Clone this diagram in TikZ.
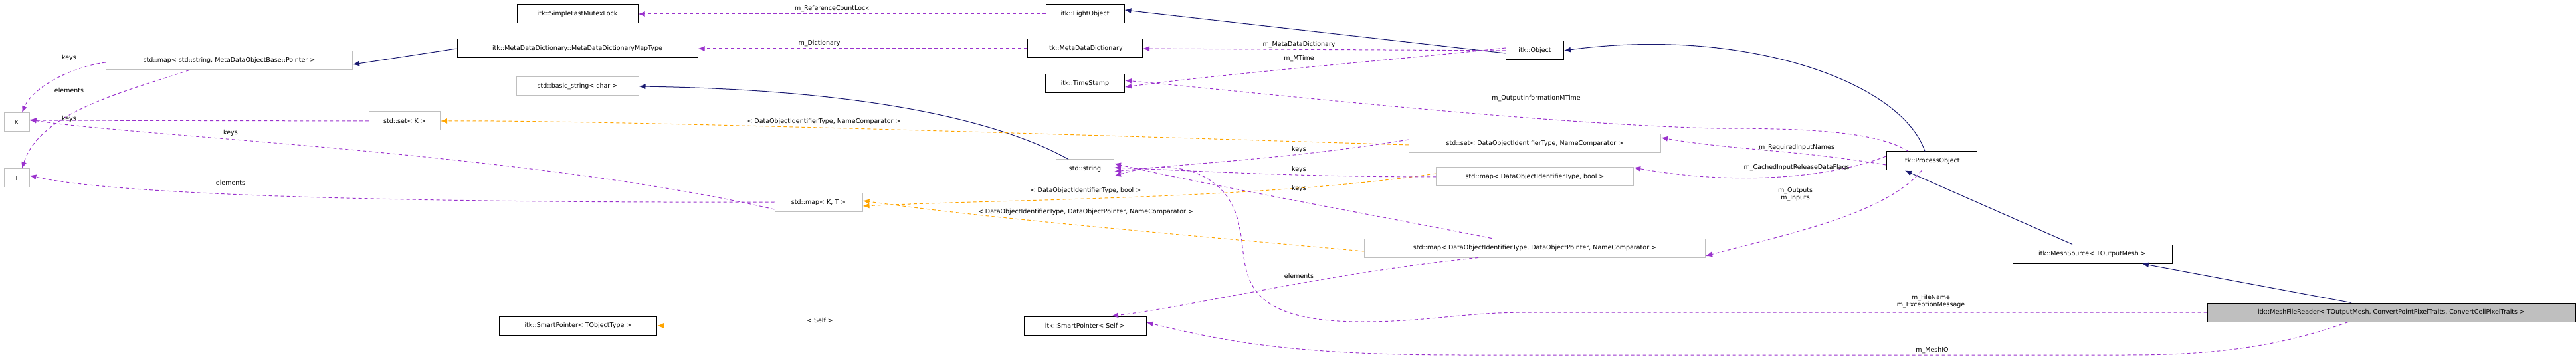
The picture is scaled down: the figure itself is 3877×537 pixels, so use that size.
\documentclass[tikz,border=0pt]{standalone}
\usepackage{fontspec}
\setmainfont{DejaVu Sans}
\usetikzlibrary{arrows.meta}
\definecolor{pur}{HTML}{9A32CD}
\definecolor{org}{HTML}{FFA500}
\definecolor{nav}{HTML}{191970}
\definecolor{gry}{HTML}{BFBFBF}
\begin{document}
\begin{tikzpicture}[x=1pt,y=-1pt,
  box/.style={draw=black,line width=1pt,fill=white,minimum height=28pt,inner sep=0pt,font=\fontsize{9.5}{11}\selectfont},
  ubox/.style={box,draw=gry},
  lab/.style={inner sep=0pt,font=\fontsize{9.5}{11}\selectfont,align=center},
  tip/.style={-{Latex[length=10pt,width=8pt]}},
  mem/.style={tip,draw=pur,dashed,dash pattern=on 5pt off 4pt,line width=1pt},
  tpl/.style={tip,draw=org,dashed,dash pattern=on 5pt off 4pt,line width=1pt},
  inh/.style={tip,draw=nav,line width=1pt}]
\useasboundingbox (0,0) rectangle (3877,537);
% nodes
\node[box,minimum width=182pt] (sfml) at (869,21) {itk::SimpleFastMutexLock};
\node[box,minimum width=362pt] (mdmt) at (869,73) {itk::MetaDataDictionary::MetaDataDictionaryMapType};
\node[ubox,minimum width=371pt] (mapS) at (345,91) {std::map< std::string, MetaDataObjectBase::Pointer >};
\node[ubox,minimum width=184pt] (bstr) at (869,130) {std::basic\_string< char >};
\node[ubox,minimum width=38pt] (K) at (25,184) {K};
\node[ubox,minimum width=107pt] (setK) at (609,182) {std::set< K >};
\node[ubox,minimum width=38pt] (T) at (25,268) {T};
\node[ubox,minimum width=132pt] (mapKT) at (1232,305) {std::map< K, T >};
\node[box,minimum width=237pt] (spT) at (870,490) {itk::SmartPointer< TObjectType >};
\node[box,minimum width=118pt] (lo) at (1633,21) {itk::LightObject};
\node[box,minimum width=173pt] (mdd) at (1633,73) {itk::MetaDataDictionary};
\node[box,minimum width=119pt] (ts) at (1633,126) {itk::TimeStamp};
\node[ubox,minimum width=87pt] (str) at (1633,254) {std::string};
\node[box,minimum width=184pt] (spS) at (1633,490) {itk::SmartPointer< Self >};
\node[box,minimum width=87pt] (obj) at (2310,76) {itk::Object};
\node[ubox,minimum width=379pt] (setD) at (2310,216) {std::set< DataObjectIdentifierType, NameComparator >};
\node[ubox,minimum width=297pt] (mapB) at (2310,266) {std::map< DataObjectIdentifierType, bool >};
\node[ubox,minimum width=513pt] (mapP) at (2310,373) {std::map< DataObjectIdentifierType, DataObjectPointer, NameComparator >};
\node[box,minimum width=136pt] (po) at (2907,242) {itk::ProcessObject};
\node[box,minimum width=240pt] (ms) at (3149,382) {itk::MeshSource< TOutputMesh >};
\node[box,fill=gry,minimum width=554pt] (mfr) at (3599,470) {itk::MeshFileReader< TOutputMesh, ConvertPointPixelTraits, ConvertCellPixelTraits >};
% edges
\draw[mem] (lo.west) -- (sfml.east);
\draw[mem] (mdd.west) -- (mdmt.east);
\draw[inh] (mdmt.west) -- ([yshift=-6pt]mapS.east);
\draw[mem] ([yshift=-3pt]mapS.west) .. controls (110,100) and (50,130) .. ([xshift=8pt]K.north);
\draw[mem] ([xshift=-60pt]mapS.south) .. controls (180,140) and (60,170) .. ([xshift=8pt]T.north);
\draw[mem] (setK.west) -- ([yshift=3pt]K.east);
\draw[mem] ([yshift=-10pt]mapKT.west) .. controls (800,230) and (200,205) .. ([yshift=4pt]K.east);
\draw[mem] ([yshift=1pt]mapKT.west) .. controls (800,305) and (200,300) .. ([yshift=4pt]T.east);
\draw[inh] ([xshift=-25pt]str.north) .. controls (1500,180) and (1300,135) .. (bstr.east);
\draw[tpl] ([yshift=-2pt]setD.west) .. controls (1700,205) and (900,180) .. (setK.east);
\draw[tpl] ([yshift=5pt]mapB.west) .. controls (1900,300) and (1500,300) .. ([yshift=-5pt]mapKT.east);
\draw[tpl] ([yshift=-5pt]mapP.west) .. controls (1800,355) and (1500,330) .. ([yshift=3pt]mapKT.east);
\draw[mem] ([yshift=6pt]setD.west) .. controls (1950,238) and (1800,245) .. ([yshift=-4pt]str.east);
\draw[mem] (mapB.west) .. controls (1950,266) and (1800,257) .. ([yshift=2pt]str.east);
\draw[mem] ([xshift=-65pt]mapP.north) .. controls (2050,320) and (1800,275) .. ([yshift=8pt]str.east);
\draw[mem] ([xshift=-85pt]mapP.south) .. controls (2000,410) and (1800,460) .. ([xshift=40pt]spS.north);
\draw[tpl] (spS.west) -- (spT.east);
\draw[inh] ([yshift=-4pt]obj.west) -- ([yshift=6pt]lo.east);
\draw[mem] (obj.west) -- (mdd.east);
\draw[mem] ([yshift=4pt]obj.west) .. controls (2100,90) and (1850,110) .. ([yshift=-5pt]ts.east);
\draw[inh] ([xshift=-10pt]po.north) .. controls (2860,120) and (2620,40) .. (obj.east);
\draw[mem] ([xshift=-35pt]po.north) .. controls (2820,195) and (2700,193) .. (2577,193) .. controls (2300,185) and (1900,140) .. ([yshift=5pt]ts.east);
\draw[mem] ([yshift=-6pt]po.west) .. controls (2700,225) and (2600,225) .. ([yshift=9pt]setD.east);
\draw[mem] ([yshift=7pt]po.west) .. controls (2750,270) and (2600,278) .. ([yshift=14pt]mapB.east);
\draw[mem] ([xshift=-15pt]po.south) .. controls (2840,320) and (2700,350) .. ([yshift=-12pt]mapP.east);
\draw[inh] ([xshift=-30pt]ms.north) -- ([xshift=-40pt]po.south);
\draw[inh] ([xshift=-60pt]mfr.north) -- ([xshift=75pt]ms.south);
\draw[mem] (mfr.west) -- (2300,470) .. controls (2200,470) and (2150,484) .. (2050,484) .. controls (1850,484) and (1880,400) .. (1865,340) .. controls (1850,260) and (1770,235) .. ([yshift=-11pt]str.east);
\draw[mem] ([xshift=-65pt]mfr.south) .. controls (3420,525) and (3320,534) .. (3200,534) -- (2200,534) .. controls (1950,534) and (1850,515) .. ([yshift=5pt]spS.east);
% labels
\node[lab] (l1) at (1252,13) {m\_ReferenceCountLock};
\node[lab] (l2) at (1233,65) {m\_Dictionary};
\node[lab] (l3) at (104,87) {keys};
\node[lab] (l4) at (104,136) {elements};
\node[lab] (l5) at (104,179) {keys};
\node[lab] (l6) at (347,200) {keys};
\node[lab] (l7) at (347,275) {elements};
\node[lab] (l8) at (1234,482) {< Self >};
\node[lab] (l9) at (1955,67) {m\_MetaDataDictionary};
\node[lab] (l10) at (1955,88) {m\_MTime};
\node[lab] (l11) at (2312,148) {m\_OutputInformationMTime};
\node[lab] (l12) at (1955,225) {keys};
\node[lab] (l13) at (1955,255) {keys};
\node[lab] (l14) at (1955,284) {keys};
\node[lab] (l15) at (1634,287) {< DataObjectIdentifierType, bool >};
\node[lab] (l16) at (1240,183) {< DataObjectIdentifierType, NameComparator >};
\node[lab] (l17) at (1634,319) {< DataObjectIdentifierType, DataObjectPointer, NameComparator >};
\node[lab] (l18) at (1955,415) {elements};
\node[lab] (l19) at (2704,222) {m\_RequiredInputNames};
\node[lab] (l20) at (2704,252) {m\_CachedInputReleaseDataFlags};
\node[lab] (l21) at (2702,293) {m\_Outputs\\m\_Inputs};
\node[lab] (l22) at (2906,454) {m\_FileName\\m\_ExceptionMessage};
\node[lab] (l23) at (2908,527) {m\_MeshIO};
\end{tikzpicture}
\end{document}
